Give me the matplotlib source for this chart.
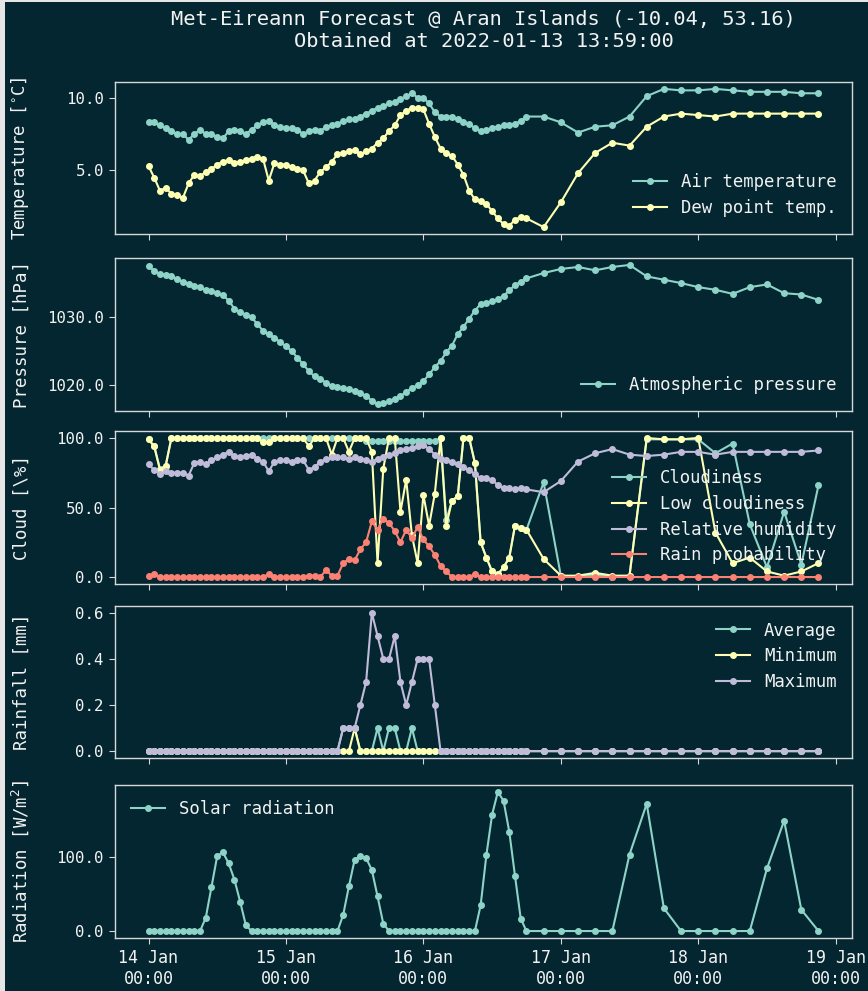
import numpy as np
import pandas as pd
import matplotlib
matplotlib.use("Agg")
import matplotlib.pyplot as plt
import matplotlib.dates as mdates
from matplotlib.patches import Rectangle
from matplotlib.ticker import MaxNLocator, FormatStrFormatter

# forecast times: hourly to 16 Jan 18:00, then 3-hourly
times = list(pd.date_range("2022-01-14 00:00", "2022-01-16 18:00", freq="1h")) + \
        list(pd.date_range("2022-01-16 21:00", "2022-01-18 21:00", freq="3h"))

air_temp = [8.3, 8.3, 8.1, 7.9, 7.7, 7.5, 7.5, 7.1, 7.5, 7.8,
            7.5, 7.5, 7.3, 7.2, 7.7, 7.8, 7.7, 7.5, 7.8, 8.1,
            8.3, 8.4, 8.1, 8.0, 7.9, 7.9, 7.8, 7.5, 7.7, 7.8,
            7.7, 8.0, 8.1, 8.2, 8.4, 8.5, 8.5, 8.7, 8.9, 9.1,
            9.3, 9.4, 9.6, 9.7, 9.9, 10.1, 10.3, 10.0, 10.0, 9.6,
            9.0, 8.7, 8.7, 8.7, 8.5, 8.3, 8.2, 7.9, 7.7, 7.8,
            7.9, 8.0, 8.1, 8.1, 8.2, 8.4, 8.7,
            8.7, 8.3, 7.6, 8.0, 8.1, 8.7, 10.1, 10.6, 10.5, 10.5,
            10.6, 10.5, 10.4, 10.4, 10.4, 10.3, 10.3]
dew_point = [5.3, 4.5, 3.6, 3.8, 3.4, 3.3, 3.1, 4.1, 4.7, 4.6,
             4.9, 5.1, 5.4, 5.6, 5.7, 5.5, 5.6, 5.7, 5.8, 5.9,
             5.8, 4.3, 5.5, 5.4, 5.4, 5.2, 5.1, 5.0, 4.1, 4.3,
             4.9, 5.2, 5.6, 6.1, 6.2, 6.3, 6.4, 6.1, 6.3, 6.5,
             6.9, 7.2, 7.7, 8.1, 8.8, 9.1, 9.3, 9.3, 9.2, 8.2,
             7.3, 6.5, 6.2, 6.0, 5.4, 4.7, 3.6, 3.0, 2.9, 2.7,
             2.2, 1.7, 1.3, 1.2, 1.6, 1.8, 1.7,
             1.1, 2.8, 4.8, 6.2, 6.9, 6.7, 8.0, 8.7, 8.9, 8.8,
             8.7, 8.9, 8.9, 8.9, 8.9, 8.9, 8.9]
pressure = [1037.7, 1036.9, 1036.4, 1036.3, 1036.1, 1035.7, 1035.3, 1035.0, 1034.7, 1034.5,
            1034.1, 1033.9, 1033.7, 1033.3, 1032.5, 1031.3, 1030.8, 1030.4, 1030.0, 1029.0,
            1028.0, 1027.5, 1027.0, 1026.3, 1025.7, 1025.0, 1024.0, 1023.0, 1022.0, 1021.2,
            1020.8, 1020.3, 1019.8, 1019.6, 1019.5, 1019.3, 1019.0, 1018.8, 1018.3, 1017.6,
            1017.1, 1017.2, 1017.5, 1017.9, 1018.3, 1018.9, 1019.5, 1019.9, 1020.5, 1021.5,
            1022.6, 1023.5, 1024.8, 1025.8, 1027.5, 1028.6, 1029.8, 1031.0, 1032.0, 1032.2,
            1032.4, 1032.7, 1033.2, 1034.0, 1034.8, 1035.3, 1035.8,
            1036.6, 1037.2, 1037.5, 1037.0, 1037.5, 1037.8, 1036.1, 1035.6, 1035.1, 1034.5,
            1034.1, 1033.5, 1034.5, 1034.9, 1033.6, 1033.4, 1032.6]
cloudiness = [99, 94, 78, 80, 100, 100, 100, 100, 100, 100,
              100, 100, 100, 100, 100, 100, 100, 100, 100, 100,
              100, 100, 100, 100, 100, 100, 100, 100, 100, 100,
              100, 100, 100, 100, 100, 100, 100, 100, 98, 98,
              98, 98, 98, 98, 98, 98, 98, 98, 98, 98,
              98, 100, 41, 55, 58, 100, 100, 82, 25, 14,
              4, 2, 7, 14, 37, 35, 34,
              68, 1, 0, 2, 0, 1, 99, 99, 99, 99,
              89, 96, 38, 7, 47, 9, 66]
low_cloud = [99, 94, 77, 80, 100, 100, 100, 100, 100, 100,
             100, 100, 100, 100, 100, 100, 100, 100, 100, 100,
             97, 97, 100, 100, 100, 100, 100, 100, 94, 100,
             100, 100, 88, 100, 100, 90, 100, 100, 100, 90,
             10, 78, 100, 100, 47, 70, 30, 10, 59, 37,
             60, 100, 37, 55, 58, 100, 100, 82, 25, 14,
             4, 2, 7, 14, 37, 35, 34,
             13, 1, 1, 3, 1, 1, 100, 99, 99, 100,
             32, 10, 14, 4, 1, 4, 10]
humidity = [81, 77, 74, 76, 75, 75, 75, 73, 82, 83,
            81, 84, 86, 88, 90, 87, 86, 87, 88, 85,
            83, 76, 83, 84, 84, 83, 84, 84, 77, 79,
            83, 85, 86, 86, 86, 85, 86, 85, 84, 83,
            85, 86, 88, 89, 91, 92, 93, 94, 95, 92,
            88, 85, 84, 83, 81, 79, 77, 74, 71, 71,
            70, 66, 64, 64, 63, 64, 63,
            61, 69, 83, 89, 92, 88, 87, 88, 90, 90,
            88, 90, 90, 90, 90, 90, 91]
rain_prob = [1, 2, 0, 0, 0, 0, 0, 0, 0, 0,
             0, 0, 0, 0, 0, 0, 0, 0, 0, 0,
             0, 2, 0, 0, 0, 0, 0, 0, 1, 1,
             0, 5, 1, 1, 10, 13, 12, 20, 25, 40,
             34, 42, 39, 33, 25, 34, 28, 36, 27, 22,
             16, 8, 4, 0, 0, 0, 0, 2, 0, 0,
             0, 0, 0, 0, 0, 0, 0,
             0, 0, 0, 0, 0, 0, 0, 0, 0, 0,
             0, 0, 0, 0, 0, 0, 0]
rain_avg = [0.0] * 34 + [0.1, 0.1, 0.1, 0.0, 0.0, 0.0, 0.1, 0.0, 0.1, 0.1,
                         0.0, 0.0, 0.1, 0.0, 0.0, 0.0, 0.0] + [0.0] * 33
rain_min = [0.0] * 36 + [0.1] + [0.0] * 47
rain_max = [0.0] * 34 + [0.1, 0.1, 0.1, 0.2, 0.3, 0.6, 0.5, 0.4, 0.4, 0.5,
                         0.3, 0.2, 0.3, 0.4, 0.4, 0.4, 0.2] + [0.0] * 33
radiation = [0, 0, 0, 0, 0, 0, 0, 0, 0, 0,
             18, 60, 102, 107, 92, 70, 40, 8, 0, 0,
             0, 0, 0, 0, 0, 0, 0, 0, 0, 0,
             0, 0, 0, 0, 22, 61, 97, 102, 99, 83,
             47, 10, 0, 0, 0, 0, 0, 0, 0, 0,
             0, 0, 0, 0, 0, 0, 0, 0, 35, 103,
             158, 189, 177, 135, 75, 17, 0,
             0, 0, 0, 0, 0, 104, 173, 31, 0, 0,
             0, 0, 0, 85, 150, 29, 0]

bg = "#032630"
fg = "#f2f2f2"
plt.style.use("dark_background")
plt.rcParams["font.family"] = ["DejaVu Sans Mono"]
plt.rcParams["axes.edgecolor"] = "#d8d8d8"
plt.rcParams["axes.linewidth"] = 1.0
plt.rcParams["xtick.major.size"] = 4.5
plt.rcParams["ytick.major.size"] = 4.5
plt.rcParams["xtick.color"] = "#d8d8d8"
plt.rcParams["ytick.color"] = "#d8d8d8"
plt.rcParams["xtick.labelcolor"] = fg
plt.rcParams["ytick.labelcolor"] = fg
plt.rcParams["legend.fontsize"] = 12.4
plt.rcParams["legend.frameon"] = False
plt.rcParams["legend.labelcolor"] = fg
plt.rcParams["legend.labelspacing"] = 0.45

fig, axes = plt.subplots(5, 1, sharex=True, figsize=(8.68, 9.91), dpi=100)
fig.patch.set_facecolor(bg)

# axes boxes in pixels (top, bottom)
boxes = [(82, 234), (258, 411), (431, 584), (606, 758), (785, 938)]
for ax, (t, b) in zip(axes, boxes):
    ax.set_position([115 / 868, 1 - b / 991, 737 / 868, (b - t) / 991])
    ax.set_facecolor(bg)

style = dict(marker="o", markersize=4, linewidth=1.5)
ax = axes[0]
ax.plot(times, air_temp, label="Air temperature", **style)
ax.plot(times, dew_point, label="Dew point temp.", **style)
ax.set_ylabel("Temperature [$^{\\circ}$C]")
ax.legend(loc="lower right", bbox_to_anchor=(1, 0.01))
ax.set_title("Met-Eireann Forecast @ Aran Islands (-10.04, 53.16)\nObtained at 2022-01-13 13:59:00",
             fontsize=14.7, color=fg, pad=25)

ax = axes[1]
ax.plot(times, pressure, label="Atmospheric pressure", **style)
ax.set_ylabel("Pressure [hPa]")
ax.legend(loc="lower right", bbox_to_anchor=(1, 0.01))

ax = axes[2]
ax.plot(times, cloudiness, label="Cloudiness", **style)
ax.plot(times, low_cloud, label="Low cloudiness", **style)
ax.plot(times, humidity, label="Relative humidity", **style)
ax.plot(times, rain_prob, label="Rain probability", **style)
ax.set_ylabel("Cloud [\\%]")
ax.legend(loc="center right", bbox_to_anchor=(1, 0.44))

ax = axes[3]
ax.plot(times, rain_avg, label="Average", **style)
ax.plot(times, rain_min, label="Minimum", **style)
ax.plot(times, rain_max, label="Maximum", **style)
ax.set_ylabel("Rainfall [mm]")
ax.legend(loc="upper right", bbox_to_anchor=(1, 1.0))

ax = axes[4]
ax.plot(times, radiation, label="Solar radiation", **style)
ax.set_ylabel("Radiation [W/m$^2$]")
ax.legend(loc="upper left")

for ax in axes:
    ax.yaxis.set_major_locator(MaxNLocator(nbins=4, steps=[1, 2, 5, 10]))
    ax.yaxis.set_major_formatter(FormatStrFormatter("%.1f"))
    ax.tick_params(axis="y", labelsize=11.3)
    ax.tick_params(axis="x", labelsize=12)
    ax.yaxis.label.set_size(12.5)
    ax.yaxis.label.set_color(fg)
    ax.yaxis.set_label_coords(-0.114, 0.5)

axes[-1].xaxis.set_major_locator(mdates.DayLocator())
axes[-1].xaxis.set_major_formatter(mdates.DateFormatter("%d %b\n%H:%M"))

# light screenshot edge on the left and top
fig.add_artist(Rectangle((0, 0), 5 / 868, 1, transform=fig.transFigure, color="#e6e6e6", lw=0))
fig.add_artist(Rectangle((0, 1 - 2 / 991), 1, 2 / 991, transform=fig.transFigure, color="#e6e6e6", lw=0))

fig.savefig("out.png", dpi=100, facecolor=bg)
